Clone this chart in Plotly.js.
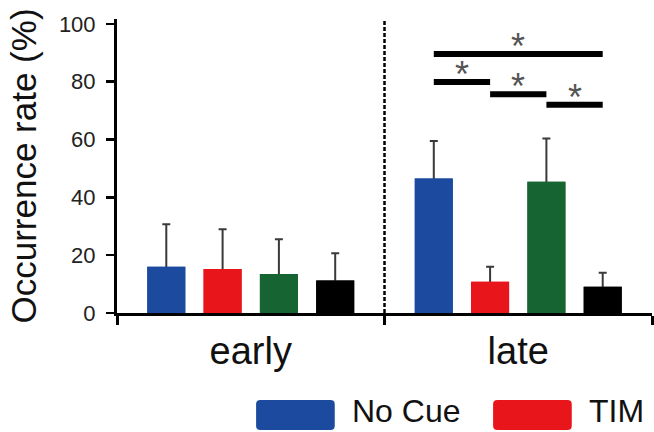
<!DOCTYPE html>
<html>
<head>
<meta charset="utf-8">
<script src="https://cdn.plot.ly/plotly-3.0.1.min.js"></script>
<style>html,body{margin:0;padding:0;background:#fff;}#chart{width:654px;height:432px;}</style>
</head>
<body>
<div id="chart"></div>
<script>
// ---- data ----
var phases = ['early', 'late'];
var phasePos = [0.5, 1.5];
var seriesNames = ['No Cue', 'TIM', 'Group 3', 'Group 4'];
var seriesColors = ['#1c4a9e', '#e8151b', '#176433', '#000000'];
var noCue = [16.0, 46.5];
var noCueErr = [14.7, 13.0];
var tim = [15.2, 10.8];
var timErr = [13.8, 5.2];
var group3 = [13.5, 45.4];
var group3Err = [12.0, 15.0];
var group4 = [11.2, 9.1];
var group4Err = [9.5, 4.8];
var yTicks = [0, 20, 40, 60, 80, 100];
// significance comparisons in the "late" phase: [series i, series j, level (%)]
var sigPairs = [[0, 3, 89.6], [0, 1, 79.9], [1, 2, 75.7], [2, 3, 72.0]];
var sigLabel = '*';
var legendShown = [0, 1];

var values = [noCue, tim, group3, group4];
var errs = [noCueErr, timErr, group3Err, group4Err];

var bargap = 0.158, bargroupgap = 0.325;
var nSeries = values.length;
var slot = (1 - bargap) / nSeries;
function barCenter(phaseIdx, s) {
  return phasePos[phaseIdx] + (s - (nSeries - 1) / 2) * slot;
}

// layer 1: bars carrying the error bars (whisker runs down inside the bar, hidden by layer 2)
var errTraces = values.map(function (v, s) {
  return {
    type: 'bar', name: seriesNames[s], x: phasePos, y: v, offsetgroup: 'g' + s,
    marker: { color: seriesColors[s], line: { width: 0 } },
    error_y: {
      type: 'data', array: errs[s], arrayminus: v,
      symmetric: false, visible: true, color: '#3a3a3a', thickness: 2, width: 4
    },
    showlegend: false, hoverinfo: 'skip'
  };
});
// layer 2: the solid bars on top
var barTraces = values.map(function (v, s) {
  return {
    type: 'bar', name: seriesNames[s], x: phasePos, y: v, offsetgroup: 'g' + s,
    marker: { color: seriesColors[s], line: { width: 0 } },
    showlegend: false, hoverinfo: 'skip'
  };
});
var traces = errTraces.concat(barTraces);

var shapes = [];
var annotations = [];

// dashed separator between phases
shapes.push({
  type: 'line', xref: 'x', yref: 'paper', x0: 1, x1: 1, y0: 0, y1: 1,
  line: { color: '#000', width: 2.5, dash: '4px,2px' }
});

// significance bars
sigPairs.forEach(function (p) {
  var xa = barCenter(1, p[0]), xb = barCenter(1, p[1]);
  shapes.push({
    type: 'line', xref: 'x', yref: 'y', x0: xa, x1: xb, y0: p[2], y1: p[2],
    line: { color: '#000', width: 6 }
  });
  annotations.push({
    xref: 'x', yref: 'y', x: (xa + xb) / 2, y: p[2], text: sigLabel,
    showarrow: false, yanchor: 'bottom', yshift: -15,
    font: { family: 'Liberation Sans, Arial, sans-serif', size: 36, color: '#555' }
  });
});

// custom legend (large rounded swatches)
function roundRect(x0, x1, y0, y1, rx, ry) {
  return 'M' + (x0 + rx) + ',' + y0 + ' L' + (x1 - rx) + ',' + y0 +
    ' Q' + x1 + ',' + y0 + ' ' + x1 + ',' + (y0 + ry) +
    ' L' + x1 + ',' + (y1 - ry) + ' Q' + x1 + ',' + y1 + ' ' + (x1 - rx) + ',' + y1 +
    ' L' + (x0 + rx) + ',' + y1 + ' Q' + x0 + ',' + y1 + ' ' + x0 + ',' + (y1 - ry) +
    ' L' + x0 + ',' + (y0 + ry) + ' Q' + x0 + ',' + y0 + ' ' + (x0 + rx) + ',' + y0 + ' Z';
}
var legX = [0.260, 0.703];
var legW = 0.147;
legendShown.forEach(function (s, k) {
  shapes.push({
    type: 'path', xref: 'paper', yref: 'paper',
    path: roundRect(legX[k], legX[k] + legW, -0.398, -0.296, 0.008, 0.014),
    fillcolor: seriesColors[s], line: { width: 0 }
  });
  annotations.push({
    xref: 'paper', yref: 'paper', x: legX[k] + legW + 0.028, y: -0.335,
    xanchor: 'left', yanchor: 'middle', showarrow: false, text: seriesNames[s],
    font: { family: 'Liberation Sans, Arial, sans-serif', size: 32, color: '#111' }
  });
});

var layout = {
  width: 654, height: 432,
  margin: { l: 117, r: 2, t: 19, b: 119 },
  paper_bgcolor: '#fff', plot_bgcolor: '#fff',
  barmode: 'group', bargap: bargap, bargroupgap: bargroupgap,
  showlegend: false,
  font: { family: 'Liberation Sans, Arial, sans-serif', color: '#111' },
  xaxis: {
    range: [0, 2], tickmode: 'array', tickvals: phasePos, ticktext: phases,
    ticks: '', showgrid: false, zeroline: false,
    showline: true, linecolor: '#000', linewidth: 3,
    tickfont: { size: 38, color: '#111' }, ticklabelstandoff: 2,
    minor: { tickmode: 'array', tickvals: [0, 1, 2], ticks: 'outside', ticklen: 9, tickwidth: 3, tickcolor: '#000', showgrid: false }
  },
  yaxis: {
    range: [0, 101.7], tickmode: 'array', tickvals: yTicks,
    ticks: 'outside', ticklen: 8, tickwidth: 2.5, tickcolor: '#000',
    showgrid: false, zeroline: false,
    showline: true, linecolor: '#000', linewidth: 3,
    tickfont: { size: 22, color: '#222' }, ticklabelstandoff: 6,
    title: { text: 'Occurrence rate (%)', font: { size: 35, color: '#111' }, standoff: 12 }
  },
  shapes: shapes,
  annotations: annotations
};

Plotly.newPlot('chart', traces, layout, { displayModeBar: false, staticPlot: true });
</script>
</body>
</html>
